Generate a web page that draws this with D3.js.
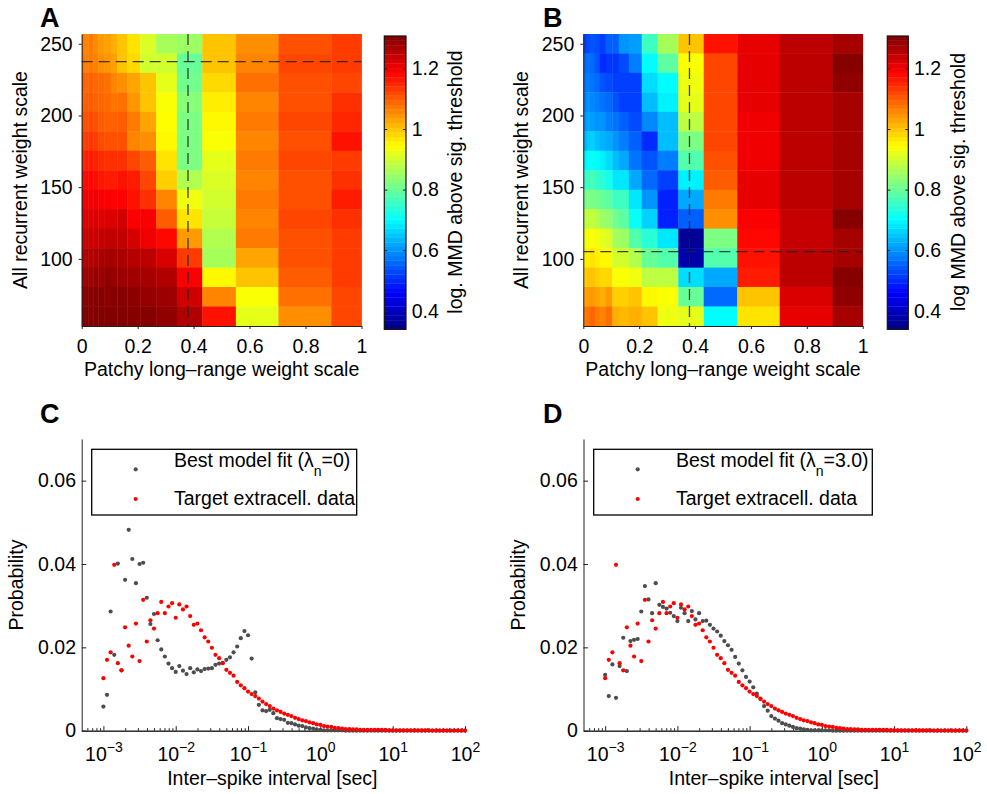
<!DOCTYPE html>
<html>
<head>
<meta charset="utf-8">
<script src="https://cdnjs.cloudflare.com/ajax/libs/d3/7.8.5/d3.min.js"></script>
<style>
    body { margin: 0; background: #fff; }
    text { font-family: "Liberation Sans", Arial, sans-serif; }
</style>
</head>
<body>
<div id="fig"></div>
<script>
// ---------- heatmap data (A, B) ----------
// patchy long-range weight scale: column edges of the grid
const weightEdges = [0, 0.012, 0.024, 0.041, 0.059, 0.080, 0.104, 0.127, 0.163, 0.209, 0.266, 0.340, 0.431, 0.551, 0.703, 0.892, 1.0];
// all recurrent weight scale: row centres, top to bottom
const recurrentRows = [250, 236.4, 222.9, 209.3, 195.7, 182.1, 168.6, 155, 141.4, 127.9, 114.3, 100.7, 87.1, 73.6, 60];
const colorRange = [0.339, 1.307];
const colorTicks = [0.4, 0.6, 0.8, 1, 1.2];
const weightTicks = [0, 0.2, 0.4, 0.6, 0.8, 1];
const recurrentTicks = [100, 150, 200, 250];

// log. MMD above sig. threshold, one array per column (rows top -> bottom)
const mmdA = [
    [1.065, 1.07, 1.095, 1.095, 1.11, 1.125, 1.15, 1.175, 1.2, 1.215, 1.23, 1.255, 1.275, 1.295, 1.305],
    [1.06, 1.065, 1.09, 1.1, 1.11, 1.13, 1.16, 1.18, 1.2, 1.22, 1.235, 1.26, 1.28, 1.3, 1.305],
    [1.07, 1.07, 1.095, 1.1, 1.115, 1.135, 1.16, 1.18, 1.2, 1.22, 1.24, 1.26, 1.28, 1.3, 1.305],
    [1.055, 1.065, 1.09, 1.095, 1.11, 1.13, 1.155, 1.175, 1.2, 1.22, 1.235, 1.26, 1.285, 1.3, 1.305],
    [1.04, 1.05, 1.085, 1.09, 1.1, 1.115, 1.145, 1.165, 1.19, 1.215, 1.24, 1.265, 1.28, 1.3, 1.305],
    [1.035, 1.045, 1.08, 1.085, 1.095, 1.11, 1.14, 1.16, 1.19, 1.22, 1.245, 1.27, 1.29, 1.295, 1.305],
    [1.02, 1.035, 1.06, 1.075, 1.095, 1.11, 1.14, 1.16, 1.185, 1.22, 1.245, 1.27, 1.285, 1.3, 1.305],
    [1.0, 1.0, 1.05, 1.08, 1.1, 1.11, 1.14, 1.17, 1.185, 1.23, 1.245, 1.265, 1.28, 1.3, 1.305],
    [0.97, 0.98, 1.03, 1.045, 1.07, 1.06, 1.12, 1.16, 1.17, 1.19, 1.225, 1.255, 1.275, 1.295, 1.3],
    [0.91, 0.9, 1.0, 1.0, 1.03, 1.05, 1.1, 1.12, 1.14, 1.19, 1.2, 1.25, 1.27, 1.285, 1.3],
    [0.86, 0.9, 0.92, 0.94, 0.945, 0.95, 0.97, 0.99, 1.06, 1.1, 1.18, 1.22, 1.26, 1.28, 1.29],
    [0.85, 0.8, 0.81, 0.83, 0.82, 0.82, 0.82, 0.87, 0.93, 0.97, 1.04, 1.13, 1.19, 1.23, 1.26],
    [1.0, 1.0, 0.98, 0.96, 0.95, 0.94, 0.92, 0.91, 0.9, 0.89, 0.87, 0.86, 0.95, 1.06, 1.17],
    [1.05, 1.06, 1.08, 1.06, 1.07, 1.06, 1.07, 1.06, 1.07, 1.06, 1.07, 1.03, 1.0, 0.94, 0.92],
    [1.11, 1.12, 1.11, 1.11, 1.12, 1.11, 1.12, 1.11, 1.11, 1.12, 1.11, 1.11, 1.1, 1.08, 1.05],
    [1.13, 1.13, 1.12, 1.14, 1.15, 1.17, 1.13, 1.14, 1.16, 1.14, 1.13, 1.13, 1.13, 1.12, 1.12]
];
const mmdB = [
    [0.52, 0.56, 0.57, 0.58, 0.6, 0.63, 0.69, 0.75, 0.81, 0.88, 0.93, 0.96, 0.99, 1.03, 1.07],
    [0.53, 0.57, 0.58, 0.6, 0.62, 0.65, 0.7, 0.76, 0.82, 0.88, 0.94, 0.96, 1.0, 1.04, 1.08],
    [0.54, 0.56, 0.57, 0.59, 0.61, 0.66, 0.71, 0.77, 0.82, 0.89, 0.94, 0.97, 1.0, 1.04, 1.09],
    [0.53, 0.54, 0.56, 0.58, 0.6, 0.64, 0.7, 0.75, 0.81, 0.87, 0.93, 0.96, 0.99, 1.03, 1.07],
    [0.52, 0.5, 0.54, 0.57, 0.6, 0.63, 0.69, 0.74, 0.8, 0.85, 0.92, 0.95, 0.98, 1.02, 1.06],
    [0.55, 0.51, 0.53, 0.56, 0.58, 0.62, 0.67, 0.72, 0.79, 0.84, 0.91, 0.95, 0.98, 1.04, 1.08],
    [0.55, 0.51, 0.52, 0.54, 0.57, 0.6, 0.64, 0.68, 0.76, 0.81, 0.86, 0.9, 0.94, 0.99, 1.02],
    [0.6, 0.53, 0.52, 0.52, 0.55, 0.58, 0.62, 0.68, 0.76, 0.79, 0.85, 0.9, 0.94, 0.99, 1.01],
    [0.61, 0.58, 0.52, 0.52, 0.53, 0.55, 0.57, 0.62, 0.68, 0.71, 0.78, 0.87, 0.93, 1.0, 1.02],
    [0.76, 0.7, 0.67, 0.64, 0.59, 0.5, 0.54, 0.56, 0.6, 0.66, 0.74, 0.8, 0.88, 0.95, 1.0],
    [0.86, 0.79, 0.7, 0.69, 0.64, 0.64, 0.58, 0.52, 0.49, 0.49, 0.68, 0.78, 0.88, 0.94, 0.93],
    [1.0, 0.94, 0.93, 0.92, 0.88, 0.82, 0.78, 0.69, 0.62, 0.55, 0.36, 0.38, 0.67, 0.8, 0.92],
    [1.17, 1.12, 1.12, 1.12, 1.12, 1.12, 1.11, 1.1, 1.07, 1.05, 0.82, 0.78, 0.62, 0.56, 0.7],
    [1.21, 1.21, 1.21, 1.21, 1.2, 1.2, 1.2, 1.21, 1.21, 1.19, 1.18, 1.17, 1.16, 1.0, 0.97],
    [1.25, 1.25, 1.25, 1.25, 1.25, 1.25, 1.25, 1.25, 1.25, 1.24, 1.24, 1.25, 1.25, 1.22, 1.21],
    [1.27, 1.3, 1.29, 1.27, 1.27, 1.27, 1.27, 1.27, 1.27, 1.3, 1.27, 1.27, 1.3, 1.29, 1.27]
];
const bestA = {w: 0.38, r: 237.5};
const bestB = {w: 0.38, r: 105};

// ---------- ISI data (C, D) ----------
// bin centres as log10(seconds)
const isiLog = [-3,-2.95,-2.9,-2.85,-2.8,-2.75,-2.7,-2.65,-2.6,-2.55,-2.5,-2.45,-2.4,-2.35,-2.3,-2.25,-2.2,-2.15,-2.1,-2.05,
    -2,-1.95,-1.9,-1.85,-1.8,-1.75,-1.7,-1.65,-1.6,-1.55,-1.5,-1.45,-1.4,-1.35,-1.3,-1.25,-1.2,-1.15,-1.1,-1.05,
    -1,-0.95,-0.9,-0.85,-0.8,-0.75,-0.7,-0.65,-0.6,-0.55,-0.5,-0.45,-0.4,-0.35,-0.3,-0.25,-0.2,-0.15,-0.1,-0.05,
    0,0.05,0.1,0.15,0.2,0.25,0.3,0.35,0.4,0.45,0.5,0.55,0.6,0.65,0.7,0.75,0.8,0.85,0.9,0.95,
    1,1.05,1.1,1.15,1.2,1.25,1.3,1.35,1.4,1.45,1.5,1.55,1.6,1.65,1.7,1.75,1.8,1.85,1.9,1.95,2];
const targetIsi = [0.0126,0.0170,0.0188,0.0398,0.0162,0.0145,0.0248,0.0204,0.0178,0.0257,0.0167,0.0314,0.0214,0.0265,0.0245,0.0282,0.0309,0.0282,0.0298,0.0306,
    0.0271,0.0303,0.0291,0.0298,0.0275,0.0254,0.0257,0.0241,0.0224,0.0214,0.0199,0.0182,0.0174,0.0162,0.0146,0.0139,0.0132,0.0117,0.0109,0.0102,
    0.0094,0.0088,0.0083,0.0077,0.0070,0.0064,0.0059,0.0053,0.0049,0.0045,0.0041,0.0038,0.0035,0.0031,0.0028,0.0025,0.0023,0.0020,0.0018,0.0015,
    0.0014,0.0011,0.0010,0.0009,0.0007,0.0006,0.0005,0.0004,0.0004,0.0003,0.0003,0.0002,0.0002,0.0002,0.0002,0.0002,0.0002,0.0002,0.0002,0.0001,
    0.0001,0.0001,0.0001,0.0001,0.0001,0.0001,0.0001,0.0001,0.0001,0.0001,0.0001,0.00005,0.00005,0.00005,0.00005,0.00005,0.00005,0.00005,0.00005,0.00005,0.00005];
const modelIsiC = [0.0058,0.0086,0.0286,0.0182,0.0401,0.0145,0.0362,0.0482,0.0412,0.0354,0.0400,0.0403,0.0319,0.0256,0.0280,0.0217,0.0195,0.0178,0.0161,0.0150,
    0.0141,0.0155,0.0144,0.0136,0.0150,0.0140,0.0147,0.0143,0.0148,0.0149,0.0150,0.0158,0.0161,0.0163,0.0170,0.0176,0.0188,0.0202,0.0222,0.0239,
    0.0229,0.0173,0.0092,0.0062,0.0049,0.0047,0.0050,0.0042,0.0030,0.0028,0.0026,0.0019,0.0018,0.0015,0.0012,0.0011,0.0008,0.0006,0.0005,0.0003,
    0.0002,0.0001,0.0001,0.0001,0.0001,0.0001,0.0001,0,0,0,0,0,0,0,0,0,0,0,0,0,
    0,0,0,0,0,0,0,0,0,0,0,0,0,0,0,0,0,0,0,0,0];
const modelIsiD = [0.0134,0.0083,0.0159,0.0079,0.0155,0.0223,0.0143,0.0215,0.0218,0.0220,0.0286,0.0347,0.0315,0.0282,0.0354,0.0302,0.0297,0.0293,0.0283,0.0275,
    0.0263,0.0295,0.0282,0.0263,0.0287,0.0267,0.0282,0.0263,0.0264,0.0254,0.0245,0.0238,0.0228,0.0215,0.0205,0.0194,0.0177,0.0161,0.0145,0.0129,
    0.0118,0.0104,0.0089,0.0076,0.0059,0.0048,0.0035,0.0029,0.0024,0.0018,0.0015,0.0012,0.0009,0.0006,0.0005,0.0003,0.0002,0.0001,0.0001,0.0001,
    0.0001,0.0001,0.0001,0,0,0,0,0,0,0,0,0,0,0,0,0,0,0,0,0,
    0,0,0,0,0,0,0,0,0,0,0,0,0,0,0,0,0,0,0,0,0];
const isiDecades = [1e-3, 1e-2, 1e-1, 1, 10, 100];
const probTicks = [0, 0.02, 0.04, 0.06];

const FONT = 19.5;

// matlab "jet"
function jet(t) {
    t = Math.max(0, Math.min(1, t));
    const f = v => Math.round(255 * Math.max(0, Math.min(1, v)));
    return `rgb(${f(Math.min(4 * t - 1.5, -4 * t + 4.5))},${f(Math.min(4 * t - 0.5, -4 * t + 3.5))},${f(Math.min(4 * t + 0.5, -4 * t + 2.5))})`;
}

function styleAxis(g) {
    g.attr("font-size", FONT).attr("font-family", "Liberation Sans, Arial, sans-serif");
    g.selectAll("line").attr("stroke", "#222");
    g.selectAll(".domain").attr("stroke", "#222");
    g.selectAll("text").attr("fill", "#000");
}

class HeatPanel {
    constructor(svg, box, cbar, cols, best, cbarTitle, letter, yTitleX, cbarTitleX) {
        this.svg = svg;
        this.box = box;
        this.cbar = cbar;
        this.cols = cols;
        this.best = best;
        this.cbarTitle = cbarTitle;
        this.letter = letter;
        this.yTitleX = yTitleX;
        this.cbarTitleX = cbarTitleX;
        this.initVis();
    }

    initVis() {
        let vis = this;
        vis.x = d3.scaleLinear().domain([0, 1]).range([vis.box.left, vis.box.right]);
        let half = (recurrentRows[0] - recurrentRows[1]) / 2;
        vis.half = half;
        vis.y = d3.scaleLinear()
            .domain([recurrentRows[recurrentRows.length - 1] - half, recurrentRows[0] + half])
            .range([vis.box.bottom, vis.box.top]);
        vis.c = d3.scaleLinear().domain(colorRange).range([0, 1]);

        vis.cells = [];
        vis.cols.forEach(function (col, ci) {
            col.forEach(function (v, ri) {
                vis.cells.push({ci: ci, ri: ri, v: v});
            });
        });
        vis.updateVis();
    }

    updateVis() {
        let vis = this;
        let g = vis.svg.append("g");

        g.selectAll(".cell")
            .data(vis.cells)
            .enter().append("rect")
            .attr("class", "cell")
            .attr("x", d => vis.x(weightEdges[d.ci]))
            .attr("width", d => vis.x(weightEdges[d.ci + 1]) - vis.x(weightEdges[d.ci]) + 0.4)
            .attr("y", d => vis.y(recurrentRows[d.ri] + vis.half))
            .attr("height", d => vis.y(recurrentRows[d.ri] - vis.half) - vis.y(recurrentRows[d.ri] + vis.half) + 0.4)
            .attr("fill", d => jet(vis.c(d.v)));

        // dashed lines at the best fit
        g.append("line")
            .attr("x1", vis.x(vis.best.w)).attr("x2", vis.x(vis.best.w))
            .attr("y1", vis.box.top).attr("y2", vis.box.bottom)
            .attr("stroke", "#222").attr("stroke-width", 1.3)
            .attr("stroke-dasharray", "11,6").attr("opacity", 0.85);
        g.append("line")
            .attr("x1", vis.box.left).attr("x2", vis.box.right)
            .attr("y1", vis.y(vis.best.r)).attr("y2", vis.y(vis.best.r))
            .attr("stroke", "#222").attr("stroke-width", 1.3)
            .attr("stroke-dasharray", "11,6").attr("opacity", 0.85);

        g.append("g")
            .attr("transform", `translate(${vis.box.left},0)`)
            .call(d3.axisLeft(vis.y).tickValues(recurrentTicks).tickSize(3).tickSizeOuter(0).tickPadding(6))
            .call(styleAxis);
        g.append("g")
            .attr("transform", `translate(0,${vis.box.bottom})`)
            .call(d3.axisBottom(vis.x).tickValues(weightTicks).tickSize(3).tickSizeOuter(0).tickPadding(10.5)
                .tickFormat(d => d === 0 || d === 1 ? String(d) : d3.format(".1f")(d)))
            .call(styleAxis);

        g.append("text")
            .attr("x", (vis.box.left + vis.box.right) / 2)
            .attr("y", 375.5)
            .attr("text-anchor", "middle")
            .attr("font-size", FONT)
            .text("Patchy long\u2013range weight scale");
        g.append("text")
            .attr("transform", `translate(${vis.yTitleX},180) rotate(-90)`)
            .attr("text-anchor", "middle")
            .attr("font-size", FONT)
            .text("All recurrent weight scale");

        // colorbar
        let cb = vis.cbar;
        let cy = d3.scaleLinear().domain(colorRange).range([cb.bottom, cb.top]);
        let bands = d3.range(64);
        let bh = (cb.bottom - cb.top) / 64;
        g.selectAll(".band")
            .data(bands)
            .enter().append("rect")
            .attr("class", "band")
            .attr("x", cb.left)
            .attr("width", cb.right - cb.left)
            .attr("y", d => cb.bottom - (d + 1) * bh)
            .attr("height", bh + 0.3)
            .attr("fill", d => jet((d + 0.5) / 64));
        g.append("rect")
            .attr("x", cb.left).attr("y", cb.top)
            .attr("width", cb.right - cb.left).attr("height", cb.bottom - cb.top)
            .attr("fill", "none").attr("stroke", "#111").attr("stroke-width", 1.2);
        g.append("g")
            .attr("transform", `translate(${cb.right},0)`)
            .call(d3.axisRight(cy).tickValues(colorTicks).tickSize(-3).tickSizeOuter(0).tickPadding(5.7)
                .tickFormat(d => d === 1 ? "1" : d3.format(".1f")(d)))
            .call(styleAxis)
            .select(".domain").remove();
        g.append("g")
            .attr("transform", `translate(${cb.left},0)`)
            .call(d3.axisLeft(cy).tickValues(colorTicks).tickSize(-3).tickSizeOuter(0).tickFormat(""))
            .call(styleAxis)
            .select(".domain").remove();
        g.append("text")
            .attr("transform", `translate(${vis.cbarTitleX},182) rotate(-90)`)
            .attr("text-anchor", "middle")
            .attr("font-size", FONT)
            .text(vis.cbarTitle);

        g.append("text")
            .attr("x", vis.letter.x).attr("y", vis.letter.y)
            .attr("font-size", 27).attr("font-weight", "bold")
            .text(vis.letter.t);
    }
}

class IsiPanel {
    constructor(svg, box, model, target, lambdaText, legendBox, letter, yTitleX) {
        this.svg = svg;
        this.box = box;
        this.model = model;
        this.target = target;
        this.lambdaText = lambdaText;
        this.legendBox = legendBox;
        this.letter = letter;
        this.yTitleX = yTitleX;
        this.initVis();
    }

    initVis() {
        let vis = this;
        vis.x = d3.scaleLog().domain([Math.pow(10, -3.3), 100]).range([vis.box.left, vis.box.right]);
        vis.y = d3.scaleLinear().domain([0, 0.07]).range([vis.box.bottom, vis.box.top]);
        vis.modelPts = isiLog.map((e, i) => ({t: Math.pow(10, e), p: vis.model[i]}));
        vis.targetPts = isiLog.map((e, i) => ({t: Math.pow(10, e), p: vis.target[i]}));
        vis.minor = [];
        [-4, -3, -2, -1, 0, 1].forEach(function (dec) {
            for (let k = 2; k <= 9; k++) {
                let v = k * Math.pow(10, dec);
                if (v > Math.pow(10, -3.3) && v < 100) vis.minor.push(v);
            }
        });
        vis.updateVis();
    }

    updateVis() {
        let vis = this;
        let g = vis.svg.append("g");

        g.append("g")
            .attr("transform", `translate(0,${vis.box.bottom})`)
            .call(d3.axisBottom(vis.x).tickValues(vis.minor).tickSize(-2.5).tickSizeOuter(0).tickFormat(""))
            .call(styleAxis);
        let xa = g.append("g")
            .attr("transform", `translate(0,${vis.box.bottom})`)
            .call(d3.axisBottom(vis.x).tickValues(isiDecades).tickSize(-4.5).tickSizeOuter(0).tickPadding(16.5))
            .call(styleAxis);
        xa.selectAll(".tick text")
            .text(null)
            .each(function (d) {
                let t = d3.select(this);
                let e = Math.round(Math.log10(d));
                t.append("tspan").text("10");
                t.append("tspan")
                    .attr("dy", "-0.62em")
                    .attr("font-size", 14)
                    .text(e < 0 ? "\u2212" + (-e) : String(e));
            });
        g.append("g")
            .attr("transform", `translate(${vis.box.left},0)`)
            .call(d3.axisLeft(vis.y).tickValues(probTicks).tickSize(-4.5).tickSizeOuter(0).tickPadding(5.7)
                .tickFormat(d => d === 0 ? "0" : d3.format(".2f")(d)))
            .call(styleAxis);

        g.append("text")
            .attr("x", (vis.box.left + vis.box.right) / 2 - 1)
            .attr("y", 785)
            .attr("text-anchor", "middle")
            .attr("font-size", FONT)
            .text("Inter\u2013spike interval [sec]");
        g.append("text")
            .attr("transform", `translate(${vis.yTitleX},585) rotate(-90)`)
            .attr("text-anchor", "middle")
            .attr("font-size", FONT)
            .text("Probability");

        g.selectAll(".model")
            .data(vis.modelPts)
            .enter().append("circle")
            .attr("class", "model")
            .attr("cx", d => vis.x(d.t))
            .attr("cy", d => vis.y(d.p))
            .attr("r", 2.1)
            .attr("fill", "#4d4d4d");
        g.selectAll(".target")
            .data(vis.targetPts)
            .enter().append("circle")
            .attr("class", "target")
            .attr("cx", d => vis.x(d.t))
            .attr("cy", d => vis.y(d.p))
            .attr("r", 2.1)
            .attr("fill", "#ff0000");

        // legend
        let lb = vis.legendBox;
        g.append("rect")
            .attr("x", lb.x).attr("y", lb.y)
            .attr("width", lb.w).attr("height", lb.h)
            .attr("fill", "#fff").attr("stroke", "#000").attr("stroke-width", 1.3);
        g.append("circle").attr("cx", lb.x + 44).attr("cy", lb.y + 20).attr("r", 2.1).attr("fill", "#4d4d4d");
        g.append("circle").attr("cx", lb.x + 44).attr("cy", lb.y + 49.7).attr("r", 2.1).attr("fill", "#ff0000");
        let t1 = g.append("text")
            .attr("x", lb.x + 82.3).attr("y", lb.y + 17.6)
            .attr("font-size", FONT);
        t1.append("tspan").text("Best model fit (\u03bb");
        t1.append("tspan").attr("dy", 9).attr("font-size", 14).text("n");
        t1.append("tspan").attr("dy", -9).text(vis.lambdaText);
        g.append("text")
            .attr("x", lb.x + 82.3).attr("y", lb.y + 56)
            .attr("font-size", FONT)
            .text("Target extracell. data");

        g.append("text")
            .attr("x", vis.letter.x).attr("y", vis.letter.y)
            .attr("font-size", 27).attr("font-weight", "bold")
            .text(vis.letter.t);
    }
}

let svg = d3.select("#fig").append("svg")
    .attr("width", 987)
    .attr("height", 794)
    .style("display", "block");
svg.append("rect").attr("width", 987).attr("height", 794).attr("fill", "#fff");

new HeatPanel(svg, {left: 81.7, right: 361.5, top: 34, bottom: 326},
    {left: 384.3, right: 406, top: 36, bottom: 329.3},
    mmdA, bestA, "log. MMD above sig. threshold", {x: 40, y: 27, t: "A"}, 26.7, 461.5);
new HeatPanel(svg, {left: 583.3, right: 862.7, top: 34, bottom: 326},
    {left: 887.3, right: 908.3, top: 36, bottom: 329.3},
    mmdB, bestB, "log MMD above sig. threshold", {x: 543, y: 27, t: "B"}, 528.3, 965);

new IsiPanel(svg, {left: 81.7, right: 465, top: 439, bottom: 730.7}, modelIsiC, targetIsi, "=0)",
    {x: 91.7, y: 449.3, w: 265, h: 65.7}, {x: 40, y: 423, t: "C"}, 23.3);
new IsiPanel(svg, {left: 583.5, right: 966.3, top: 439, bottom: 730.7}, modelIsiD, targetIsi, "=3.0)",
    {x: 593.7, y: 449.3, w: 278.6, h: 65.7}, {x: 543, y: 423, t: "D"}, 525);
</script>
</body>
</html>
